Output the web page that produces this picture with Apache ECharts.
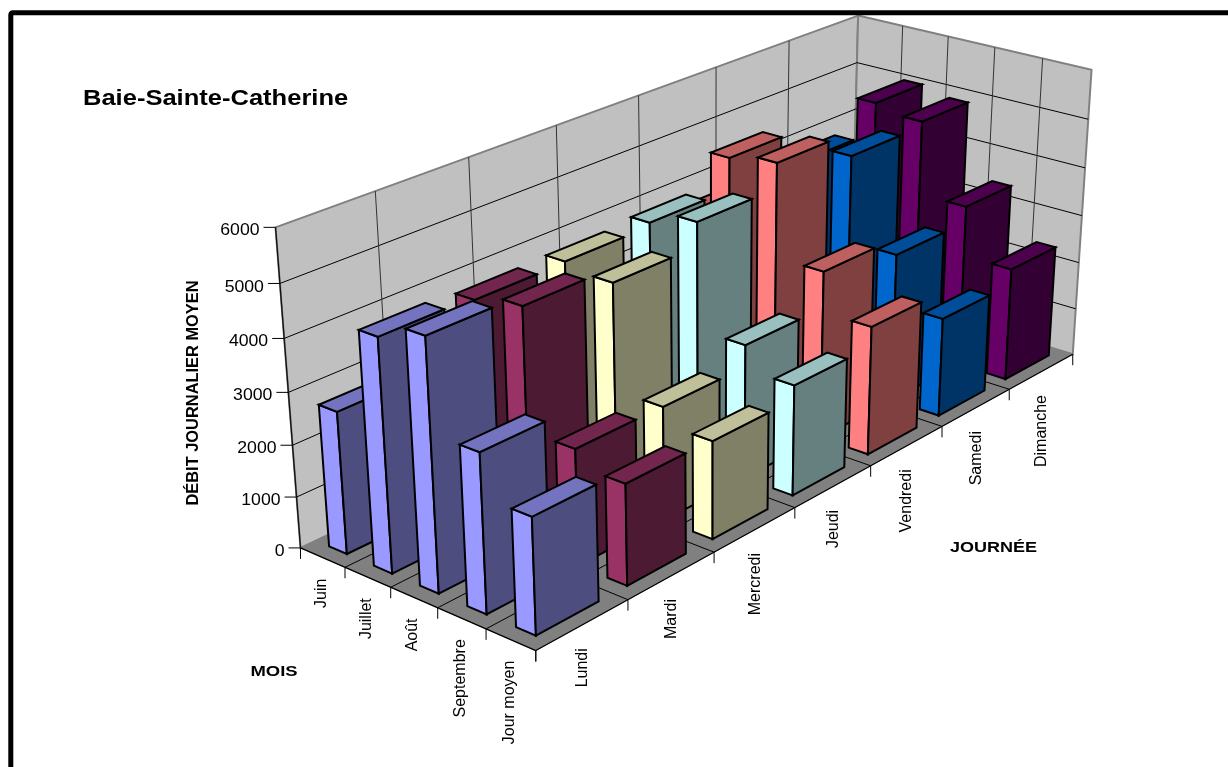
<!DOCTYPE html>
<html><head><meta charset="utf-8">
<style>html,body{margin:0;padding:0;background:#fff}#c{width:1228px;height:767px}</style>
<script src="https://cdn.jsdelivr.net/npm/echarts@6/dist/echarts.min.js"></script>
</head><body><div id="c"></div>
<script>
const months=['Juin','Juillet','Août','Septembre','Jour moyen'];
const days=['Lundi','Mardi','Mercredi','Jeudi','Vendredi','Samedi','Dimanche'];
const yTicks=[0,1000,2000,3000,4000,5000,6000];
const lundi=[2740,4440,4770,3020,2210];
const mardi=[2500,4380,4570,2250,1950];
const mercredi=[2400,4400,4290,2240,1920];
const jeudi=[2700,4470,4760,2670,2200];
const vendredi=[3630,5100,5260,3400,2600];
const samedi=[3400,4440,4780,3050,2030];
const dimanche=[3300,5020,4880,3380,2350];
const byDay=[lundi,mardi,mercredi,jeudi,vendredi,samedi,dimanche];
const lightFace=['#9999FF','#993366','#FFFFCC','#CCFFFF','#FF8080','#0066CC','#660066'];
const darkFace=['#4D4D80','#4D1A33','#808066','#668080','#804040','#003366','#330033'];
const topFace=['#7373BF','#73264D','#BFBF99','#99BFBF','#BF6060','#004D99','#4D004D'];

// Perspective camera: (day, month, thousands of m3) to page pixels.
const CAMERA=[
  106.20683,39.817878,-6.7971346,300.52139,
  -28.017364,11.736941,-55.597092,547.90882,
  0.032332371,-0.013512054,-0.00955214
];
function project(u,v,kilo){
  const P=CAMERA,d=P[8]*u+P[9]*v+P[10]*kilo+1;
  return [(P[0]*u+P[1]*v+P[2]*kilo+P[3])/d,(P[4]*u+P[5]*v+P[6]*kilo+P[7])/d];
}
const nU=days.length,nV=months.length,maxK=yTicks[yTicks.length-1]/1000;
const barU=0.68,barV=0.40;

function poly(points,fill,stroke,lw){return{type:'polygon',shape:{points},style:{fill,stroke,lineWidth:lw,lineJoin:'miter'}};}
function seg(a,b,stroke,lw){return{type:'line',shape:{x1:a[0],y1:a[1],x2:b[0],y2:b[1]},style:{stroke,lineWidth:lw}};}
function label(text,x,y,opt){return Object.assign({type:'text',x,y},opt.el||{},{style:Object.assign({text,fill:'#000',fontFamily:'Liberation Sans',fontSize:16,align:'center',verticalAlign:'middle'},opt.style||{})});}

// Walls, floor, grid, ticks and all labels.
function renderStage(){
  const c=[];
  c.push(poly([project(0,0,0),project(nU,0,0),project(nU,0,maxK),project(0,0,maxK)],'#C0C0C0','#808080',2));
  c.push(poly([project(nU,0,0),project(nU,nV,0),project(nU,nV,maxK),project(nU,0,maxK)],'#C0C0C0','#808080',2));
  c.push(poly([project(0,0,0),project(nU,0,0),project(nU,nV,0),project(0,nV,0)],'#808080','#808080',1));
  yTicks.slice(1,-1).forEach(t=>{const k=t/1000;
    c.push(seg(project(0,0,k),project(nU,0,k),'#000',1));
    c.push(seg(project(nU,0,k),project(nU,nV,k),'#000',1));});
  for(let i=1;i<nU;i++)c.push(seg(project(i,0,0),project(i,0,maxK),'#333',1));
  for(let i=1;i<nV;i++)c.push(seg(project(nU,i,0),project(nU,i,maxK),'#333',1));
  for(let i=1;i<nU;i++)c.push(seg(project(i,0,0),project(i,nV,0),'#000',1));
  for(let i=1;i<nV;i++)c.push(seg(project(0,i,0),project(nU,i,0),'#000',1));
  c.push(seg(project(0,0,0),project(0,0,maxK),'#111',1.3));
  c.push(seg(project(0,0,0),project(0,nV,0),'#000',1.3));
  c.push(seg(project(0,nV,0),project(nU,nV,0),'#000',1.3));
  yTicks.forEach(t=>{const p=project(0,0,t/1000);
    c.push(seg([p[0]-12,p[1]],p,'#000',1));
    c.push(label(String(t),p[0]-16,p[1]+3.5,{el:{scaleX:1.07},style:{align:'right',fontSize:16.5}}));});
  for(let i=0;i<=nV;i++){const p=project(0,i,0);c.push(seg(p,[p[0],p[1]+11],'#000',1));}
  for(let i=0;i<=nU;i++){const p=project(i,nV,0);c.push(seg(p,[p[0],p[1]+11],'#000',1));}
  months.forEach((m,i)=>{const p=project(0,i+.5,0);
    c.push(label(m,p[0]-1,p[1]+21,{el:{rotation:Math.PI/2},style:{align:'right'}}));});
  days.forEach((d,i)=>{const p=project(i+.5,nV,0);
    c.push(label(d,p[0],p[1]+23.5,{el:{rotation:Math.PI/2},style:{align:'right'}}));});
  c.push(label('Baie-Sainte-Catherine',83,99,{el:{scaleX:1.16},style:{align:'left',fontWeight:'bold',fontSize:22}}));
  c.push(label('DÉBIT JOURNALIER MOYEN',193.5,393,{el:{rotation:Math.PI/2,scaleX:1.025},style:{fontWeight:'bold',fontSize:16}}));
  c.push(label('MOIS',274,672,{el:{scaleX:1.23},style:{fontWeight:'bold',fontSize:15}}));
  c.push(label('JOURNÉE',993.5,548,{el:{scaleX:1.2},style:{fontWeight:'bold',fontSize:15}}));
  return{type:'group',children:c};
}
// One bar: the three faces seen from the camera.
function renderBar(params,api){
  const d=api.value(0),m=api.value(1),k=api.value(2)/1000;
  const u0=d+(1-barU)/2,u1=u0+barU,v0=m+(1-barV)/2,v1=v0+barV;
  return{type:'group',children:[
    poly([project(u0,v0,0),project(u0,v1,0),project(u0,v1,k),project(u0,v0,k)],lightFace[d],'#000',2),
    poly([project(u0,v1,0),project(u1,v1,0),project(u1,v1,k),project(u0,v1,k)],darkFace[d],'#000',2),
    poly([project(u0,v0,k),project(u0,v1,k),project(u1,v1,k),project(u1,v0,k)],topFace[d],'#000',2)
  ]};
}
// Painted far to near.
const barData=[];
for(let d=nU-1;d>=0;d--)for(let m=0;m<nV;m++)barData.push([d,m,byDay[d][m]]);

const chart=echarts.init(document.getElementById('c'),null,{renderer:'canvas'});
chart.setOption({
  animation:false,
  backgroundColor:'#fff',
  graphic:[{type:'rect',z:100,shape:{x:10.8,y:12.8,width:1400,height:900,r:2},style:{fill:'none',stroke:'#000',lineWidth:5}}],
  series:[
    {type:'custom',coordinateSystem:'none',silent:true,z:1,data:[[0]],renderItem:renderStage},
    {type:'custom',coordinateSystem:'none',silent:true,z:2,data:barData,dimensions:['jour','mois','debit'],renderItem:renderBar}
  ]
});
</script></body></html>
